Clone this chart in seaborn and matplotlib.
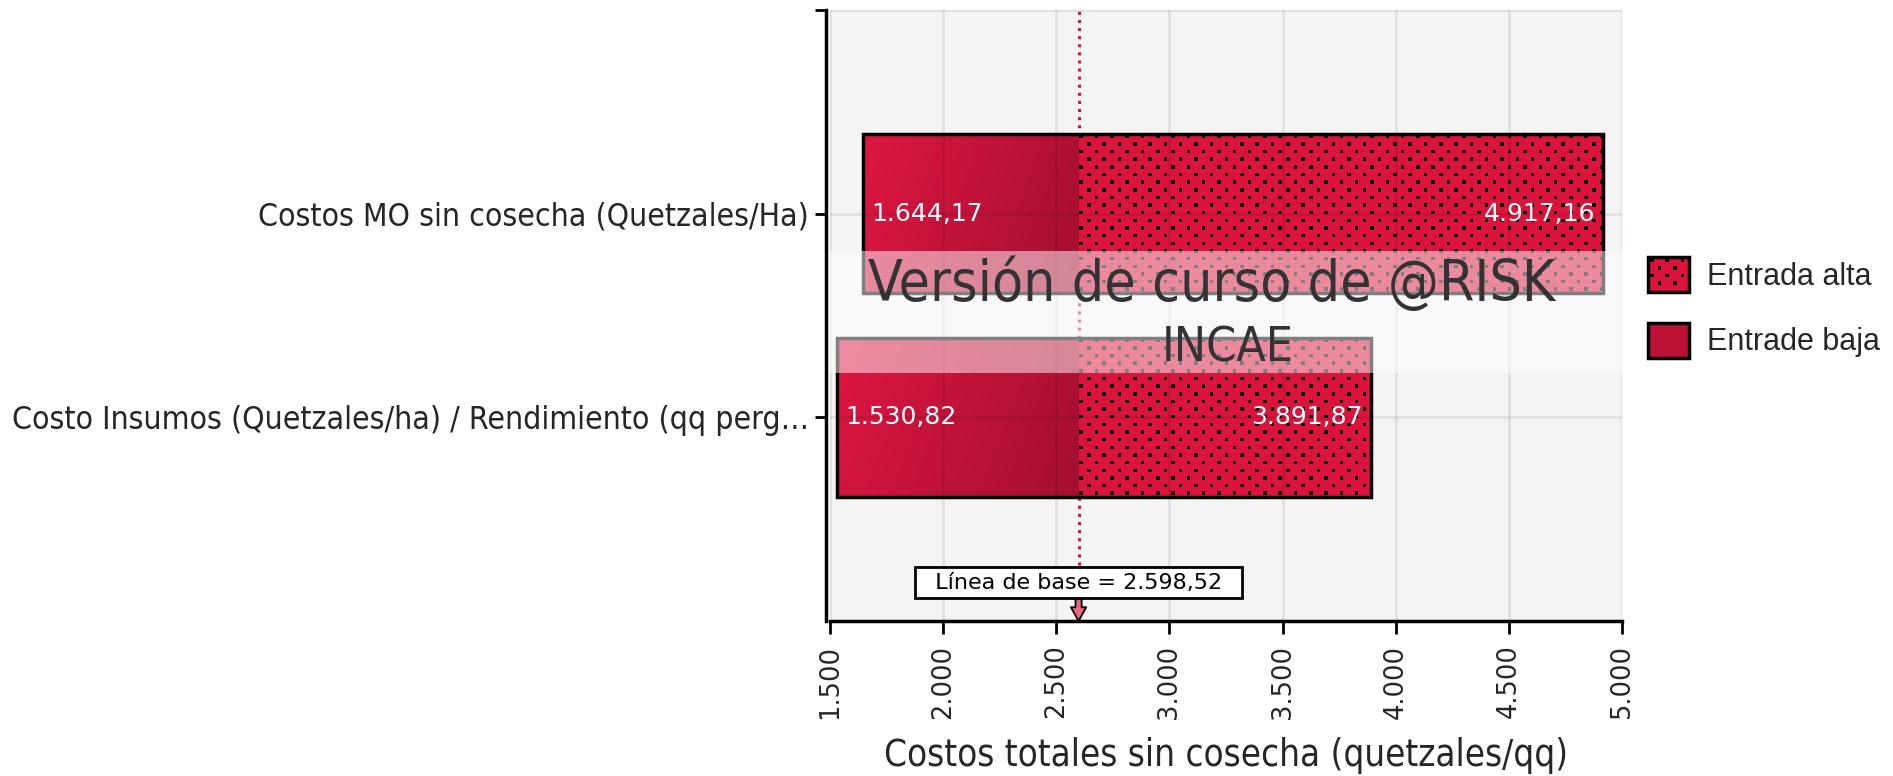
import numpy as np
import pandas as pd
import matplotlib
matplotlib.use("Agg")
import matplotlib.pyplot as plt
import matplotlib.transforms as mtransforms
from matplotlib import font_manager as fm
from matplotlib.patches import Rectangle, Patch
from matplotlib.legend_handler import HandlerPatch
from matplotlib.colors import LinearSegmentedColormap, to_rgba
import seaborn as sns

# datos del tornado
categorias = ["Costos MO sin cosecha (Quetzales/Ha)",
              "Costo Insumos (Quetzales/ha) / Rendimiento (qq perg\u2026"]
entrada_baja = [1644.17, 1530.82]
entrada_alta = [4917.16, 3891.87]
linea_base = 2598.52
marcas_x = [1500, 2000, 2500, 3000, 3500, 4000, 4500, 5000]


def formato(v, dec=2):
    s = f"{v:,.{dec}f}"
    return s.replace(",", "X").replace(".", ",").replace("X", ".")


sns.set_theme(style="white")

# fuente estrecha para las etiquetas largas
nombres = {f.name for f in fm.fontManager.ttflist}
if "Liberation Sans Narrow" in nombres:
    estrecha = dict(family="Liberation Sans Narrow")
    esc = 1.0
elif "DejaVu Sans Condensed" in nombres:
    estrecha = dict(family="DejaVu Sans Condensed")
    esc = 0.8
else:
    estrecha = dict(family="DejaVu Sans", stretch="condensed")
    esc = 0.75

df = pd.DataFrame({"categoria": categorias,
                   "baja": entrada_baja,
                   "alta": entrada_alta})
df["ancho_baja"] = linea_base - df["baja"]
df["ancho_alta"] = df["alta"] - linea_base
df["ancho_total"] = df["alta"] - df["baja"]

fig = plt.figure(figsize=(18.93, 7.76), dpi=100)
ax = fig.add_axes([830 / 1893, 1 - 621 / 776, 792 / 1893, 611 / 776])
ax.set_facecolor("#f4f4f4")

alto = 0.78
rojo = "#dc143c"

sns.barplot(data=df, x="ancho_baja", y="categoria", orient="y", width=alto,
            color=rojo, saturation=1, errorbar=None, linewidth=0,
            edgecolor="none", ax=ax)
n0 = len(ax.patches)
sns.barplot(data=df, x="ancho_alta", y="categoria", orient="y", width=alto,
            color=rojo, saturation=1, errorbar=None, linewidth=0,
            edgecolor="none", ax=ax)
n1 = len(ax.patches)
sns.barplot(data=df, x="ancho_total", y="categoria", orient="y", width=alto,
            fill=False, errorbar=None, linewidth=2.5, edgecolor="black", ax=ax)

bajos = ax.patches[:n0]
altos = ax.patches[n0:n1]
contornos = ax.patches[n1:]

ax.set_xlim(marcas_x[0], marcas_x[-1])
ax.set_ylim(2, -1)

# degradado de la parte baja
cmap = LinearSegmentedColormap.from_list("deg", ["#de1642", "#a30f30"])
gx, gy = np.meshgrid(np.linspace(0, 1, 300), np.linspace(0, 1, 60))
grad = 0.8 * gx + 0.2 * gy
for p, b in zip(bajos, df["baja"]):
    p.set_x(b)
    p.set_facecolor("none")
    y0, h = p.get_y(), p.get_height()
    im = ax.imshow(grad, cmap=cmap, aspect="auto", origin="upper",
                   extent=(b, linea_base, y0 + h, y0), zorder=1,
                   interpolation="bilinear")
    im.set_clip_path(p)

# textura de puntos de la parte alta (en pixeles)
PASO, LADO = 7.65, 3.5


def textura(w, h):
    yy, xx = np.mgrid[0:h, 0:w].astype(float)
    fila = np.floor(yy / PASO)
    dy = yy - fila * PASO
    xc = (xx - (fila % 2) * PASO) % (2 * PASO)
    punto = (dy < LADO) & (xc < LADO)
    img = np.empty((h, w, 4))
    img[:] = to_rgba(rojo)
    img[punto] = (0, 0, 0, 1)
    return img


for p, a in zip(altos, df["alta"]):
    p.set_x(linea_base)
    p.set_facecolor("none")
    y0, h = p.get_y(), p.get_height()
    (px0, py0), (px1, py1) = ax.transData.transform([(linea_base, y0), (a, y0 + h)])
    w_px, h_px = int(round(abs(px1 - px0))), int(round(abs(py1 - py0)))
    im = ax.imshow(textura(w_px, h_px), aspect="auto", origin="upper",
                   extent=(linea_base, a, y0 + h, y0), zorder=1,
                   interpolation="nearest")
    im.set_clip_path(p)

for p, b in zip(contornos, df["baja"]):
    p.set_x(b)
    p.set_zorder(2)

# etiquetas de valores
for i, (b, a) in enumerate(zip(df["baja"], df["alta"])):
    ax.annotate(formato(b), (b, i), xytext=(6, 0), textcoords="offset points",
                ha="left", va="center", color="white", fontsize=18, zorder=4)
    ax.annotate(formato(a), (a, i), xytext=(-6, 0), textcoords="offset points",
                ha="right", va="center", color="white", fontsize=18, zorder=4)

ax.set_xlim(marcas_x[0], marcas_x[-1])
ax.set_ylim(2, -1)

ax.grid(True, color="black", alpha=0.08, lw=2)
ax.set_axisbelow(False)
for g in ax.get_xgridlines() + ax.get_ygridlines():
    g.set_zorder(2.5)

for s in ["top", "right"]:
    ax.spines[s].set_visible(False)
ax.spines["left"].set_position(("outward", 3))
for s in ["left", "bottom"]:
    ax.spines[s].set_color("black")
    ax.spines[s].set_linewidth(2.5)
ax.tick_params(axis="x", direction="out", length=9, width=2, color="black",
               pad=8, bottom=True)
ax.tick_params(axis="y", direction="out", length=8, width=2, color="black",
               pad=4, left=True)

ax.set_xticks(marcas_x)
ax.set_xticklabels([formato(v, 0) for v in marcas_x], rotation=90)
ax.set_yticks([-1, 0, 1])
ax.set_yticklabels([""] + categorias)
for t in ax.get_xticklabels():
    t.set_fontsize(18.5)
for t in ax.get_yticklabels():
    t.set_fontsize(27 * esc * 1.13)
    t.set(**estrecha)
ax.set_ylabel("")
ax.set_xlabel("Costos totales sin cosecha (quetzales/qq)",
              fontsize=32.5 * esc * 1.08, labelpad=13, **estrecha)

# linea de base
trans = mtransforms.blended_transform_factory(ax.transData, ax.transAxes)
ax.axvline(linea_base, ymin=0.092, ymax=1, color=rojo, ls=":", lw=2.2,
           zorder=0.8)
ax.text(linea_base, 0.063, "  L\u00ednea de base = " + formato(linea_base) + "  ",
        transform=trans, ha="center", va="center", fontsize=16, zorder=6,
        color="black",
        bbox=dict(boxstyle="square,pad=0.25", fc="white", ec="black", lw=2))
ax.annotate("", xy=(linea_base, 0.0), xytext=(linea_base, 0.036),
            xycoords=trans, textcoords=trans, zorder=6,
            arrowprops=dict(arrowstyle="simple,head_length=0.45,head_width=0.5,tail_width=0.2",
                            fc="#e8657f", ec="black", lw=1.3,
                            shrinkA=0, shrinkB=0, mutation_scale=22))

# marca de agua
ax.add_patch(Rectangle((0, 0.406), 1, 0.2, transform=ax.transAxes,
                       fc="white", ec="none", alpha=0.5, zorder=3))
ax.text(0.482, 0.549, "Versi\u00f3n de curso de @RISK", transform=ax.transAxes,
        ha="center", va="center", fontsize=48 * esc * 1.136, color="#333333",
        zorder=5, **estrecha)
ax.text(0.502, 0.446, "INCAE", transform=ax.transAxes,
        ha="center", va="center", fontsize=37.5 * esc * 1.23, color="#333333",
        zorder=5, **estrecha)


# leyenda con la misma textura de puntos
class ManejadorPuntos(HandlerPatch):
    def create_artists(self, legend, orig_handle, xdescent, ydescent,
                       width, height, fontsize, trans):
        x0, y0 = -xdescent, -ydescent
        arts = [Rectangle((x0, y0), width, height, fc=rojo, ec="none",
                          transform=trans)]
        paso, lado = PASO * 0.72, LADO * 0.72
        fila = 0
        y = y0 + height - lado - 1
        while y > y0:
            x = x0 + 1.5 + (fila % 2) * paso
            while x + lado < x0 + width:
                arts.append(Rectangle((x, y), lado, lado, fc="black",
                                      ec="none", transform=trans))
                x += 2 * paso
            y -= paso
            fila += 1
        arts.append(Rectangle((x0, y0), width, height, fill=False,
                              ec="black", lw=2.5, transform=trans))
        return arts


h_alta = Patch(fc=rojo, ec="black", lw=2.5, label="Entrada alta")
h_baja = Patch(fc="#bd1035", ec="black", lw=2.5, label="Entrade baja")
fig.legend(handles=[h_alta, h_baja], loc="upper left",
           bbox_to_anchor=(1648 / 1893, 1 - 257 / 776), frameon=False,
           borderpad=0, borderaxespad=0, handlelength=1.35, handleheight=1.39,
           handletextpad=0.58, labelspacing=1.0,
           handler_map={h_alta: ManejadorPuntos()},
           prop=dict(family="Liberation Sans", size=22))

fig.savefig("out.png", dpi=100)
